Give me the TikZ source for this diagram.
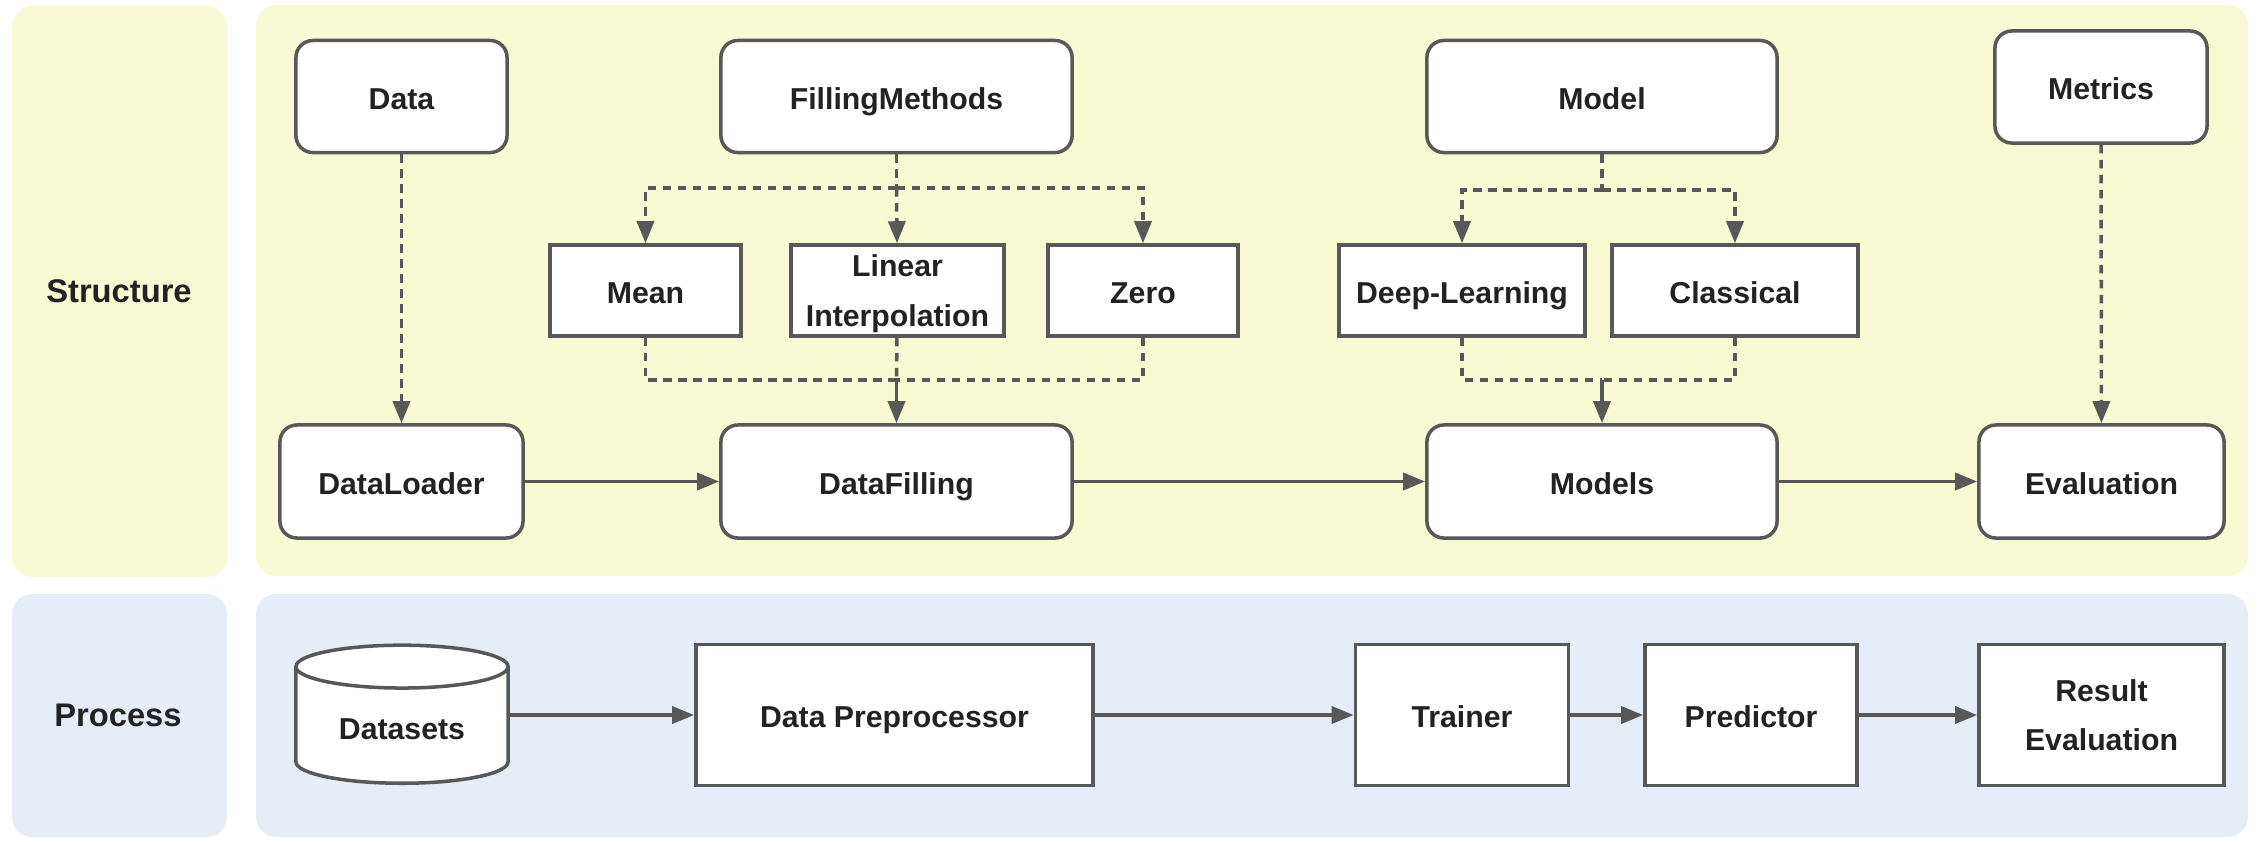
\documentclass[tikz,border=0pt]{standalone}
\usepackage{fontspec}
\setmainfont{Liberation Sans}
\usetikzlibrary{arrows.meta, shapes.geometric}

\definecolor{lineg}{HTML}{585858}
\definecolor{textg}{HTML}{222222}
\definecolor{structbg}{HTML}{F8FAD4}
\definecolor{processbg}{HTML}{E6EDF7}

\tikzset{
  box/.style={draw=lineg, line width=1pt, fill=white, text=textg, font=\fontsize{8.6}{14}\selectfont\bfseries, align=center, inner sep=0pt, text height=0.716em, text depth=0pt},
  twolines/.style={text height={}, text depth=0pt},
  roundbox/.style={box, rounded corners=0.17cm, minimum height=1.12cm},
  method/.style={box, minimum height=0.91cm},
  stage/.style={box, minimum height=1.41cm},
  store/.style={box, cylinder, shape border rotate=90, aspect=0.34},
  lane/.style={rounded corners=0.2cm, draw=none},
  lanetext/.style={text=textg, font=\fontsize{9.3}{11}\selectfont\bfseries},
  tip/.style={-{Triangle[length=0.22cm, width=0.17cm]}},
  link/.style={draw=lineg, line width=1pt, tip},
  dashlink/.style={draw=lineg, line width=1pt, dash pattern=on 0.085cm off 0.065cm}
}

\begin{document}
\begin{tikzpicture}[x=0.01cm, y=-0.01cm]
	\useasboundingbox (0,0) rectangle (2262,841);

	\fill [lane, structbg] (12,6) rectangle (227,577);
	\fill [lane, structbg] (256,5) rectangle (2248,576);
	\fill [lane, processbg] (12,594) rectangle (227,837);
	\fill [lane, processbg] (256,594) rectangle (2248,837);

	\node [lanetext] (structure) at (119,291) {Structure};
	\node [lanetext] (process) at (118,715) {Process};

	\node [roundbox, minimum width=2.11cm] (data) at (401.5,96.5) {Data};
	\node [roundbox, minimum width=3.51cm] (fm) at (896.5,96.5) {FillingMethods};
	\node [roundbox, minimum width=3.50cm] (model) at (1602,96.5) {Model};
	\node [roundbox, minimum width=2.12cm] (metrics) at (2101,87) {Metrics};

	\node [method, minimum width=1.91cm] (mean) at (645.5,290.5) {Mean};
	\node [method, twolines, minimum width=2.13cm] (lin) at (897.5,290.5) {Linear\\Interpolation};
	\node [method, minimum width=1.90cm] (zero) at (1143,290.5) {Zero};
	\node [method, minimum width=2.46cm] (dl) at (1462,290.5) {Deep-Learning};
	\node [method, minimum width=2.46cm] (cls) at (1735,290.5) {Classical};

	\node [roundbox, minimum width=2.43cm, minimum height=1.13cm] (loader) at (401.5,481.5) {DataLoader};
	\node [roundbox, minimum width=3.51cm, minimum height=1.13cm] (filling) at (896.5,481.5) {DataFilling};
	\node [roundbox, minimum width=3.50cm, minimum height=1.13cm] (models) at (1602,481.5) {Models};
	\node [roundbox, minimum width=2.45cm, minimum height=1.13cm] (eval) at (2101.5,481.5) {Evaluation};

	\node [store, anchor=south, text height=8pt, minimum width=2.12cm, minimum height=1.38cm] (ds) at (402,785) {Datasets};
	\node [stage, minimum width=3.97cm] (prep) at (894.5,715) {Data Preprocessor};
	\node [stage, minimum width=2.13cm] (trainer) at (1462,715) {Trainer};
	\node [stage, minimum width=2.12cm] (pred) at (1751,715) {Predictor};
	\node [stage, twolines, minimum width=2.45cm] (reval) at (2101.5,715) {Result\\Evaluation};

	\coordinate (fmfork) at (896.5,188);
	\coordinate (fmjoin) at (896.5,380);
	\coordinate (modelfork) at (1602,190);
	\coordinate (modeljoin) at (1602,380);

	\draw [dashlink, tip] (data) -- (loader);
	\draw [dashlink, tip] (metrics) -- (eval);

	\draw [dashlink] (fm) -- (fmfork);
	\draw [dashlink, tip] (fmfork) -| (mean);
	\draw [dashlink, tip] (fmfork) -- (lin);
	\draw [dashlink, tip] (fmfork) -| (zero);
	\draw [dashlink] (mean) |- (fmjoin);
	\draw [dashlink] (zero) |- (fmjoin);
	\draw [dashlink] (lin) -- (fmjoin);
	\draw [link] (fmjoin) -- (filling);

	\draw [dashlink] (model) -- (modelfork);
	\draw [dashlink, tip] (modelfork) -| (dl);
	\draw [dashlink, tip] (modelfork) -| (cls);
	\draw [dashlink] (dl) |- (modeljoin);
	\draw [dashlink] (cls) |- (modeljoin);
	\draw [link] (modeljoin) -- (models);

	\draw [link] (loader) -- (filling);
	\draw [link] (filling) -- (models);
	\draw [link] (models) -- (eval);

	\draw [link] (ds.east |- prep) -- (prep);
	\draw [link] (prep) -- (trainer);
	\draw [link] (trainer) -- (pred);
	\draw [link] (pred) -- (reval);
\end{tikzpicture}
\end{document}
